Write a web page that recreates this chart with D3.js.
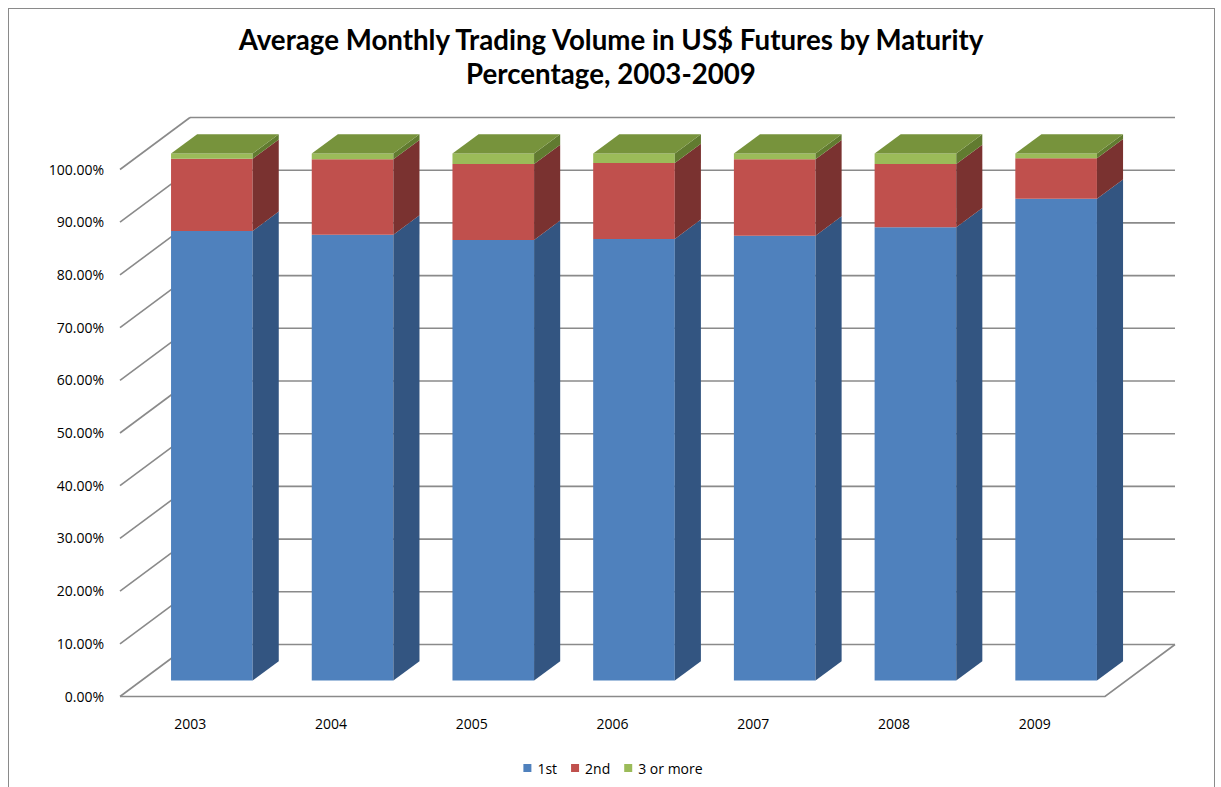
<!DOCTYPE html>
<html>
<head>
<meta charset="utf-8">
<script src="https://cdn.jsdelivr.net/npm/d3@7/dist/d3.min.js"></script>
<style>
  html, body { margin: 0; padding: 0; background: #fff; }
  svg { display: block; }
</style>
</head>
<body>
<svg id="chart" width="1221" height="787"></svg>
<script>
// ---- data ----
const years = ['2003', '2004', '2005', '2006', '2007', '2008', '2009'];
const seriesNames = ['1st', '2nd', '3 or more'];
const first  = [85.3, 84.6, 83.6, 83.8, 84.4, 86.0, 91.4];
const second = [13.7, 14.3, 14.4, 14.4, 14.5, 12.0, 7.7];
const third  = [1.0, 1.1, 2.0, 1.8, 1.1, 2.0, 0.9];
const yTicks = [0, 10, 20, 30, 40, 50, 60, 70, 80, 90, 100];
const titleLines = ['Average Monthly Trading Volume in US$ Futures by Maturity', 'Percentage, 2003-2009'];

// ---- styles ----
const frontColors = ['#4F81BD', '#C0504D', '#9BBB59'];
const sideColors  = ['#335581', '#7A3230', '#617B30'];
const topColors   = ['#4A78B0', '#A84744', '#77933C'];
const gridColor = '#8A8A8A';
const fontFamily = "'Open Sans', 'Liberation Sans', sans-serif";

const svg = d3.select('#chart');

// outer border
svg.append('rect')
  .attr('x', 8.5).attr('y', 8.5).attr('width', 1206).attr('height', 800)
  .attr('fill', 'none').attr('stroke', '#8A8A8A').attr('stroke-width', 1);

// ---- 3D geometry ----
const X0 = 120, Y0 = 696.5, W = 985;
const DX = 70, DY = 52;      // full depth offset
const zF = 0.307, zB = 0.68; // bar front/back depth fraction

const x = d3.scaleBand().domain(years).range([X0, X0 + W]).paddingInner(0.42).paddingOuter(0.21);
const h = d3.scaleLinear().domain([0, 100]).range([0, 527]);
const proj = (px, v, z) => [px + DX * z, Y0 - h(v) - DY * z];

const stacked = d3.stack().keys([0, 1, 2])(years.map((yr, i) => ({ 0: first[i], 1: second[i], 2: third[i], year: yr })));

// ---- walls & gridlines ----
const g = svg.append('g');
yTicks.forEach(t => {
  const a = proj(X0, t, 1), b = proj(X0 + W, t, 1), c = proj(X0, t, 0);
  g.append('line').attr('x1', a[0]).attr('y1', a[1]).attr('x2', b[0]).attr('y2', b[1])
    .attr('stroke', gridColor).attr('stroke-width', 1.6);
  g.append('line').attr('x1', c[0]).attr('y1', c[1]).attr('x2', a[0]).attr('y2', a[1])
    .attr('stroke', gridColor).attr('stroke-width', 1.6);
});
// floor
{
  const p1 = proj(X0, 0, 0), p2 = proj(X0 + W, 0, 0), p3 = proj(X0 + W, 0, 1);
  g.append('polyline').attr('points', [p1, p2, p3].map(p => p.join(',')).join(' '))
    .attr('fill', 'none').attr('stroke', gridColor).attr('stroke-width', 1.6);
}

// ---- y labels ----
const fmt = d3.format('.2f');
svg.append('g').selectAll('text').data(yTicks).join('text')
  .attr('x', 104).attr('y', d => proj(X0, d, 0)[1] + 5)
  .attr('text-anchor', 'end')
  .attr('font-family', fontFamily).attr('font-size', 14).attr('fill', '#000')
  .text(d => fmt(d) + '%');

// ---- x labels ----
svg.append('g').selectAll('text').data(years).join('text')
  .attr('x', d => x(d) + x.bandwidth() / 2).attr('y', 729)
  .attr('text-anchor', 'middle')
  .attr('font-family', fontFamily).attr('font-size', 14).attr('fill', '#000')
  .text(d => d);

// ---- bars ----
const poly = pts => pts.map(p => p.join(',')).join(' ');
const bars = svg.append('g');
years.forEach((yr, i) => {
  const bx0 = x(yr), bx1 = x(yr) + x.bandwidth();
  const bg = bars.append('g');
  stacked.forEach((s, k) => {
    const v0 = s[i][0], v1 = s[i][1];
    const f = [proj(bx0, v0, zF), proj(bx1, v0, zF), proj(bx1, v1, zF), proj(bx0, v1, zF)];
    bg.append('polygon').attr('points', poly(f)).attr('fill', frontColors[k]);
    const sd = [proj(bx1, v0, zF), proj(bx1, v0, zB), proj(bx1, v1, zB), proj(bx1, v1, zF)];
    bg.append('polygon').attr('points', poly(sd)).attr('fill', sideColors[k]);
  });
  const top = stacked[2][i][1];
  const tp = [proj(bx0, top, zF), proj(bx1, top, zF), proj(bx1, top, zB), proj(bx0, top, zB)];
  bg.append('polygon').attr('points', poly(tp)).attr('fill', topColors[2]);
});

// ---- title ----
const title = svg.append('g');
const t1 = title.append('text').attr('x', 611).attr('y', 49.5).attr('text-anchor', 'middle')
  .attr('font-family', "Lato, 'Open Sans', sans-serif").attr('font-weight', 'bold').attr('font-size', 26)
  .attr('fill', '#000').text(titleLines[0]);
const len = t1.node().getComputedTextLength();
const fs = 26 * 745 / len;
t1.attr('font-size', fs);
title.append('text').attr('x', 611).attr('y', 84).attr('text-anchor', 'middle')
  .attr('font-family', "Lato, 'Open Sans', sans-serif").attr('font-weight', 'bold').attr('font-size', fs)
  .attr('fill', '#000').text(titleLines[1]);

// ---- legend ----
const legend = svg.append('g');
let lx = 0;
seriesNames.forEach((name, k) => {
  const it = legend.append('g');
  it.append('rect').attr('x', 0).attr('y', -10).attr('width', 8).attr('height', 8).attr('fill', frontColors[k]);
  const tx = it.append('text').attr('x', 14).attr('y', 0)
    .attr('font-family', fontFamily).attr('font-size', 14).attr('fill', '#000').text(name);
  const w = 14 + tx.node().getComputedTextLength();
  it.attr('transform', `translate(${lx},0)`);
  lx += w + 14;
});
const totalW = lx - 14;
legend.attr('transform', `translate(${613 - totalW / 2}, 774)`);
</script>
</body>
</html>
